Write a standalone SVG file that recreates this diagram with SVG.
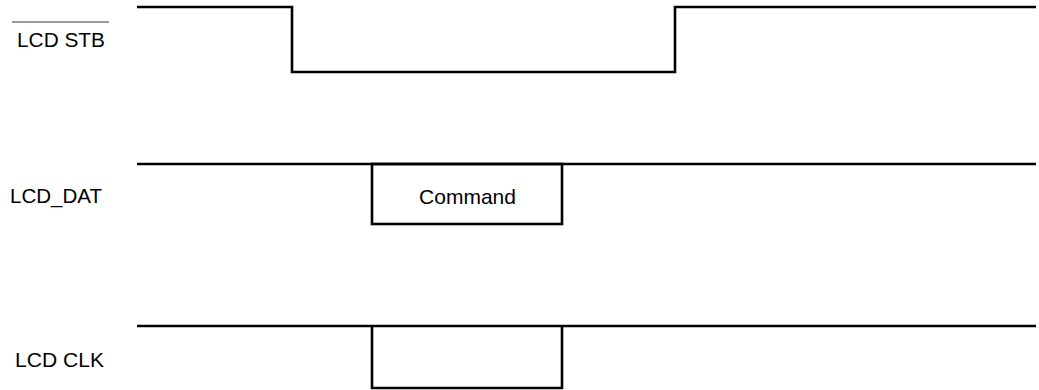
<svg xmlns="http://www.w3.org/2000/svg" width="1039" height="390" viewBox="0 0 1039 390">
<style>
.lbl{font-family:"Liberation Sans",Arial,sans-serif;font-size:20px;fill:#000}
.sig{fill:none;stroke:#000;stroke-width:2.6}
</style>
<rect width="1039" height="390" fill="#fff"/>
<g id="label-stb">
<text class="lbl" x="17" y="47" textLength="88" lengthAdjust="spacingAndGlyphs">LCD STB</text>
<line x1="12" y1="22" x2="109" y2="22" stroke="#333" stroke-width="1"/>
</g>
<g id="label-dat"><text class="lbl" x="10" y="203" textLength="92" lengthAdjust="spacingAndGlyphs">LCD_DAT</text></g>
<g id="label-clk"><text class="lbl" x="15" y="367" textLength="89" lengthAdjust="spacingAndGlyphs">LCD CLK</text></g>
<g id="connectors">
<polyline id="stb" class="sig" points="137,7 292,7 292,72 675,72 675,7 1036,7"/>
<polyline id="dat" class="sig" points="137,164 1036,164"/>
<polyline id="clk" class="sig" points="137,326 1036,326"/>
</g>
<g id="command">
<rect class="sig" x="372" y="164" width="190" height="60"/>
<text class="lbl" x="467.5" y="204" text-anchor="middle" style="font-size:21px">Command</text>
</g>
<g id="clk-pulse">
<polyline class="sig" points="372,326 372,388 562,388 562,326"/>
</g>
</svg>
